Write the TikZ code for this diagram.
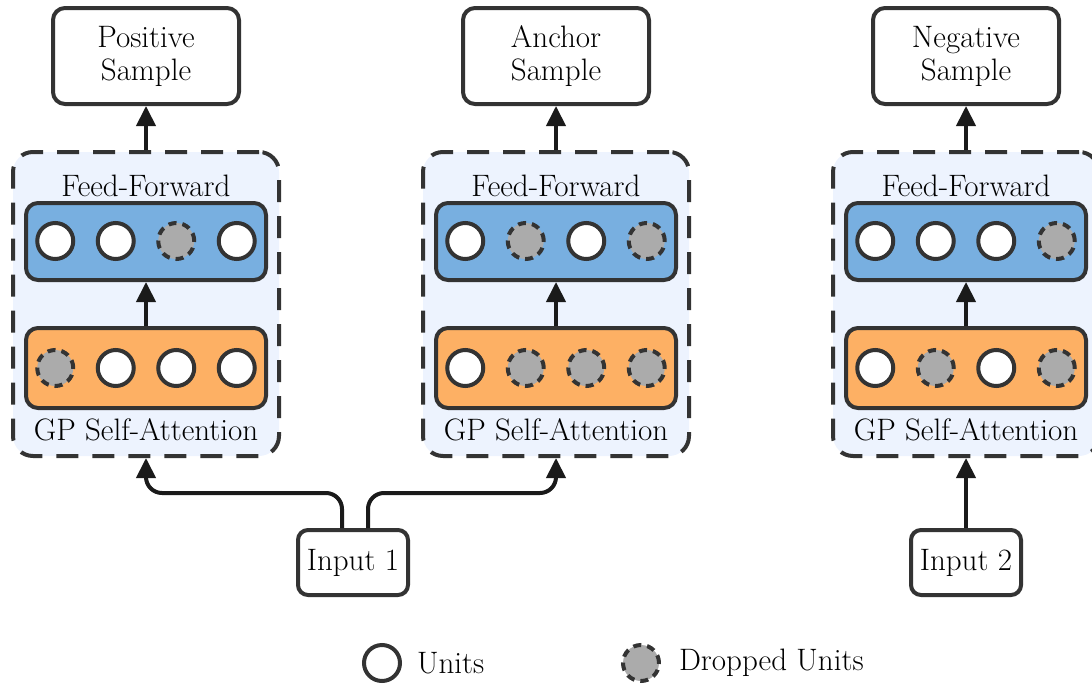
\documentclass[tikz,border=0pt]{standalone}
\usepackage{tikz}
\usetikzlibrary{
	arrows.meta,
	positioning,
}
\definecolor{linegray}{HTML}{333333}
\definecolor{arrowgray}{HTML}{1A1A1A}
\definecolor{blockbg}{HTML}{EDF3FE}
\definecolor{ffblue}{HTML}{78AFE0}
\definecolor{gporange}{HTML}{FDB064}
\definecolor{dropgray}{HTML}{ABABAB}

\begin{document}
\begin{tikzpicture}[x=0.5pt,y=-0.5pt,
		font=\fontsize{15.5}{16.5}\selectfont,
		box/.style={draw=linegray, line width=2pt, rounded corners=6pt, fill=white, align=center},
		block/.style={draw=linegray, line width=2pt, rounded corners=10pt, fill=blockbg, dash pattern=on 11pt off 7pt, minimum width=133pt, minimum height=152pt},
		layer/.style={draw=linegray, line width=2pt, rounded corners=6pt, minimum width=120pt},
		unit/.style={circle, draw=linegray, line width=2pt, fill=white, minimum size=18pt, inner sep=0pt},
		dropunit/.style={unit, fill=dropgray, dash pattern=on 4pt off 3pt},
		arrow/.style={draw=arrowgray, line width=2pt, -{Triangle[length=10pt,width=9.5pt]}},
	]
	\useasboundingbox (0,0) rectangle (1092,685);
	% three columns: name/center/title/feed-forward units/attention units
	\foreach \c/\x/\title/\ff/\gp in {pos/146/Positive/{unit,unit,dropunit,unit}/{dropunit,unit,unit,unit},
			anc/556/Anchor/{unit,dropunit,unit,dropunit}/{unit,dropunit,dropunit,dropunit},
			neg/966/Negative/{unit,unit,unit,dropunit}/{unit,dropunit,unit,dropunit}}{
		\node[box, minimum width=93pt, minimum height=48pt] (\c-out) at (\x,56) {\title\\Sample};
		\node[block] (\c-blk) at (\x,304) {};
		\node (\c-fflabel) at (\x,186) {Feed-Forward};
		\node[layer, fill=ffblue, minimum height=38.5pt] (\c-ff) at (\x,241.5) {};
		\node[layer, fill=gporange, minimum height=40pt] (\c-gp) at (\x,368) {};
		\node (\c-gplabel) at (\x,430) {GP Self-Attention};
		\foreach \s [count=\i] in \ff
			\node[\s] (\c-ff\i) at ({\x+(\i-2.5)*60.5},241) {};
		\foreach \s [count=\i] in \gp
			\node[\s] (\c-gp\i) at ({\x+(\i-2.5)*60.5},368) {};
		\draw[arrow] (\c-gp.north) -- (\c-ff.south);
		\draw[arrow] (\c-blk.north) -- (\c-out.south);
	}
	% inputs
	\node[box, rounded corners=5pt, minimum width=55pt, minimum height=32.5pt] (in1) at (353,562.5) {Input 1};
	\node[box, rounded corners=5pt, minimum width=55pt, minimum height=32.5pt] (in2) at (966,562.5) {Input 2};
	\draw[arrow, rounded corners=8pt] ([xshift=-5.5pt]in1.north) -- ++(0,-35) -| (pos-blk.south);
	\draw[arrow, rounded corners=8pt] ([xshift=7.5pt]in1.north) -- ++(0,-35) -| (anc-blk.south);
	\draw[arrow] (in2.north) -- (neg-blk.south);
	% legend
	\node[unit] (leg-u) at (382,663) {};
	\node[right=4pt of leg-u] (leg-utext) {Units};
	\node[dropunit] (leg-d) at (641,663) {};
	\node[right=5.5pt of leg-d] (leg-dtext) {Dropped Units};
\end{tikzpicture}
\end{document}
